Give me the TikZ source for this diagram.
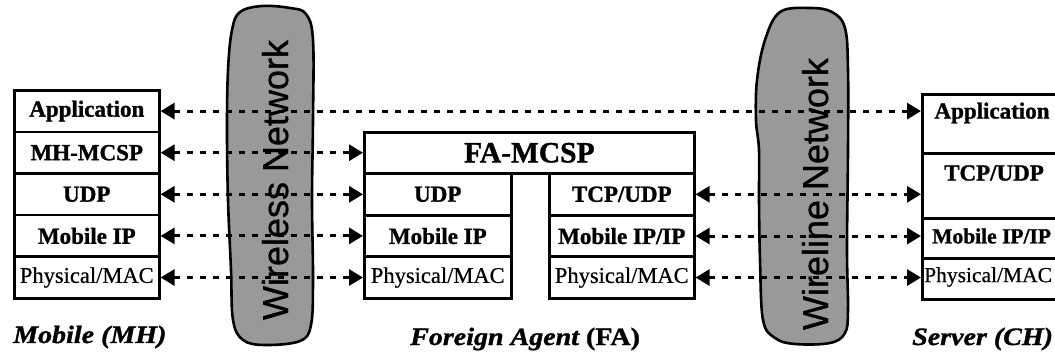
\documentclass[tikz,border=0pt]{standalone}
\usepackage{fontspec}
\setmainfont{Liberation Serif}[
  UprightFeatures={FakeBold=0.5},
  BoldFeatures={FakeBold=1.2},
  BoldItalicFeatures={FakeBold=1.2}]
\setsansfont{Liberation Sans}[FakeBold=0.8]
\usetikzlibrary{arrows.meta}

\begin{document}
\begin{tikzpicture}[x=1pt,y=-1pt,
  cell/.style={draw, line width=2.6pt, inner sep=0pt, anchor=north west,
    font=\fontsize{23}{27}\selectfont},
  boldcell/.style={cell, font=\fontsize{23}{27}\selectfont\bfseries},
  celltext/.style={inner sep=0pt, font=\fontsize{23}{27}\selectfont\bfseries},
  cloud/.style={draw, line width=2.6pt, fill=black!40, line join=round},
  cloudtext/.style={rotate=90, anchor=base, inner sep=0pt,
    font=\fontsize{36}{40}\sffamily},
  caption/.style={anchor=base west, inner sep=0pt, xscale=1.12,
    font=\fontsize{25}{30}\selectfont\bfseries},
  conn/.style={line width=3pt, dash pattern=on 6pt off 7pt,
    {Triangle[length=14pt,width=16pt]}-{Triangle[length=14pt,width=16pt]}}
]
\path[use as bounding box, clip] (0,0) rectangle (1055,355);

% network clouds
\draw[cloud] plot[smooth cycle, tension=0.6] coordinates {
  (240,12) (262,6) (290,8) (306,14) (313,40) (313,120) (312,200) (313,280)
  (311,325) (300,341) (265,345) (243,340) (233,320) (231,270) (228,200)
  (227,130) (228,70) (232,30)};
\node[cloudtext] (wless) at (288,180) {Wireless Network};

\draw[cloud] plot[smooth cycle, tension=0.6] coordinates {
  (780,12) (810,8) (832,12) (845,28) (848,70) (848,150) (847,250) (848,310)
  (845,333) (830,343) (795,344) (775,338) (763,320) (760,260) (759,200)
  (759,150) (756,120) (757,80) (765,40)};
\node[cloudtext] (wline) at (828,194) {Wireline Network};

% mobile host stack
\node[boldcell, minimum width=145pt, minimum height=41.6pt] (mhApp) at (13,89) {Application};
\node[boldcell, minimum width=145pt, minimum height=41.6pt] (mhMcsp) at (13,130.6) {MH-MCSP};
\node[boldcell, minimum width=145pt, minimum height=41.6pt] (mhUdp) at (13,172.2) {UDP};
\node[boldcell, minimum width=145pt, minimum height=41.6pt] (mhMip) at (13,213.8) {Mobile IP};
\node[cell, minimum width=145pt, minimum height=41.6pt, font=\fontsize{22.5}{27}\selectfont] (mhPhy) at (13,255.4) {Physical/MAC};

% foreign agent stack
\node[boldcell, minimum width=330pt, minimum height=41pt,
  font=\fontsize{29.5}{33}\selectfont\bfseries] (faMcsp) at (363,131) {FA-MCSP};
\node[boldcell, minimum width=147pt, minimum height=42pt] (faUdp) at (363,172) {UDP};
\node[boldcell, minimum width=147pt, minimum height=41.5pt] (faMip) at (363,214) {Mobile IP};
\node[cell, minimum width=147pt, minimum height=41.5pt, font=\fontsize{22.5}{27}\selectfont] (faPhy) at (363,255.5) {Physical/MAC};
\node[boldcell, minimum width=145pt, minimum height=42pt] (faTcp) at (548,172) {TCP/UDP};
\node[boldcell, minimum width=145pt, minimum height=41.5pt] (faMipIp) at (548,214) {Mobile IP/IP};
\node[cell, minimum width=145pt, minimum height=41.5pt, font=\fontsize{22.5}{27}\selectfont] (faPhyR) at (548,255.5) {Physical/MAC};

% server stack (its right side runs past the page edge)
\node[cell, minimum width=145pt, minimum height=59pt] (srvApp) at (921,93) {};
\node[cell, minimum width=145pt, minimum height=65pt] (srvTcp) at (921,152) {};
\node[cell, minimum width=145pt, minimum height=40pt] (srvMip) at (921,217) {};
\node[cell, minimum width=145pt, minimum height=41pt] (srvPhy) at (921,257) {};
\node[celltext] (srvAppT) at (992,113) {Application};
\node[celltext] (srvTcpT) at (994,173) {TCP/UDP};
\node[celltext, anchor=west, font=\fontsize{21.5}{26}\selectfont\bfseries] (srvMipT) at (932,236) {Mobile IP/IP};
\node[celltext, anchor=west, font=\fontsize{21.5}{26}\selectfont] (srvPhyT) at (924,277) {Physical/MAC};

% peer-to-peer links
\draw[conn] (mhApp.east) -- (mhApp.east -| srvApp.west);
\draw[conn] (mhMcsp.east) -- (mhMcsp.east -| faMcsp.west);
\draw[conn] (mhUdp.east) -- (mhUdp.east -| faUdp.west);
\draw[conn] (mhMip.east) -- (mhMip.east -| faMip.west);
\draw[conn] (mhPhy.east) -- (mhPhy.east -| faPhy.west);
\draw[conn] (faTcp.east) -- (faTcp.east -| srvTcp.west);
\draw[conn] (faMipIp.east) -- (faMipIp.east -| srvMip.west);
\draw[conn] (faPhyR.east) -- (faPhyR.east -| srvPhy.west);

% host captions
\node[caption] (capMh) at (13,343) {\itshape Mobile (MH)};
\node[caption] (capFa) at (410,345) {\itshape Foreign Agent \upshape(FA)};
\node[caption] (capCh) at (912,345) {\itshape Server (CH)};
\end{tikzpicture}
\end{document}
